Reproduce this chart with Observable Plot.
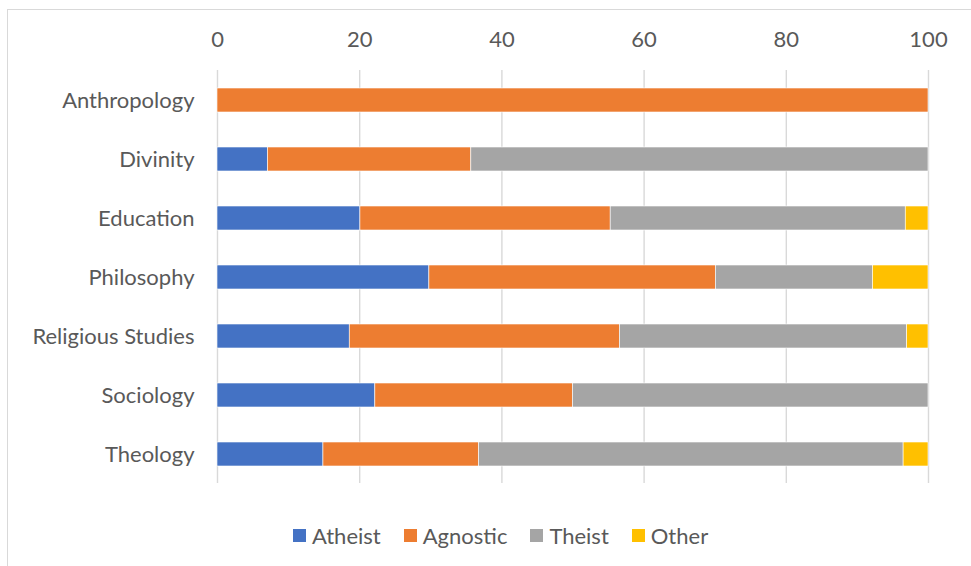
<!DOCTYPE html>
<html>
<head>
<meta charset="utf-8">
<script src="https://cdn.jsdelivr.net/npm/d3@7"></script>
<script src="https://cdn.jsdelivr.net/npm/@observablehq/plot@0.6"></script>
<style>
  html, body { margin: 0; padding: 0; background: #fff; }
  body { width: 971px; height: 566px; position: relative; overflow: hidden; font-family: Lato, "Open Sans", sans-serif; }
  #frame { position: absolute; left: 7px; top: 9px; width: 980px; height: 580px; border: 1px solid #d9d9d9; box-sizing: border-box; }
  #chart { position: absolute; left: 0; top: 0; }
  #legend { position: absolute; left: 293px; top: 520px; height: 30px; display: flex; align-items: center; font-size: 22px; color: #595959; }
  .item { display: flex; align-items: center; margin-right: 23px; }
  .swatch { width: 13px; height: 13px; margin-right: 6px; }
</style>
</head>
<body>
<div id="frame"></div>
<div id="chart"></div>
<div id="legend"></div>
<script>
// Share of respondents (%) by field and religious position
const fields   = ["Anthropology", "Divinity", "Education", "Philosophy", "Religious Studies", "Sociology", "Theology"];
const atheist  = [0,   7.1, 20.1, 29.8, 18.6, 22.2, 14.9];
const agnostic = [100, 28.6, 35.2, 40.3, 38.0, 27.8, 21.9];
const theist   = [0,   64.3, 41.5, 22.1, 40.4, 50.0, 59.7];
const other    = [0,   0,    3.2,  7.8,  3.0,  0,    3.5];
const groups   = ["Atheist", "Agnostic", "Theist", "Other"];
const colors   = ["#4472C4", "#ED7D31", "#A5A5A5", "#FFC000"];
const xTicks   = [0, 20, 40, 60, 80, 100];

const seriesValues = [atheist, agnostic, theist, other];
const rows = [];
fields.forEach((f, i) => {
  groups.forEach((g, j) => rows.push({field: f, group: g, value: seriesValues[j][i]}));
});

const chart = Plot.plot({
  width: 971,
  height: 510,
  marginTop: 70,
  marginBottom: 27,
  marginLeft: 217,
  marginRight: 43,
  style: {fontFamily: "Lato, 'Open Sans', sans-serif", fontSize: "22px", color: "#595959", background: "transparent"},
  x: {domain: [0, 100]},
  y: {domain: fields, padding: 0.6, paddingOuter: 0.3},
  color: {domain: groups, range: colors},
  marks: [
    Plot.gridX(xTicks, {stroke: "#d9d9d9", strokeOpacity: 1, strokeWidth: 1.4}),
    Plot.barX(rows, Plot.stackX({x: "value", y: "field", fill: "group", stroke: "#ffffff", strokeWidth: 0.6, order: null})),
    Plot.axisX(xTicks, {anchor: "top", tickSize: 0, tickPadding: 24, fontSize: 22, label: null, fill: "#595959"}),
    Plot.axisY({tickSize: 0, tickPadding: 23, fontSize: 22, label: null, fill: "#595959"})
  ]
});
document.getElementById("chart").appendChild(chart);

const legend = document.getElementById("legend");
groups.forEach((g, j) => {
  const item = document.createElement("div");
  item.className = "item";
  const sw = document.createElement("div");
  sw.className = "swatch";
  sw.style.background = colors[j];
  const label = document.createElement("span");
  label.textContent = g;
  item.appendChild(sw);
  item.appendChild(label);
  legend.appendChild(item);
});
</script>
</body>
</html>
